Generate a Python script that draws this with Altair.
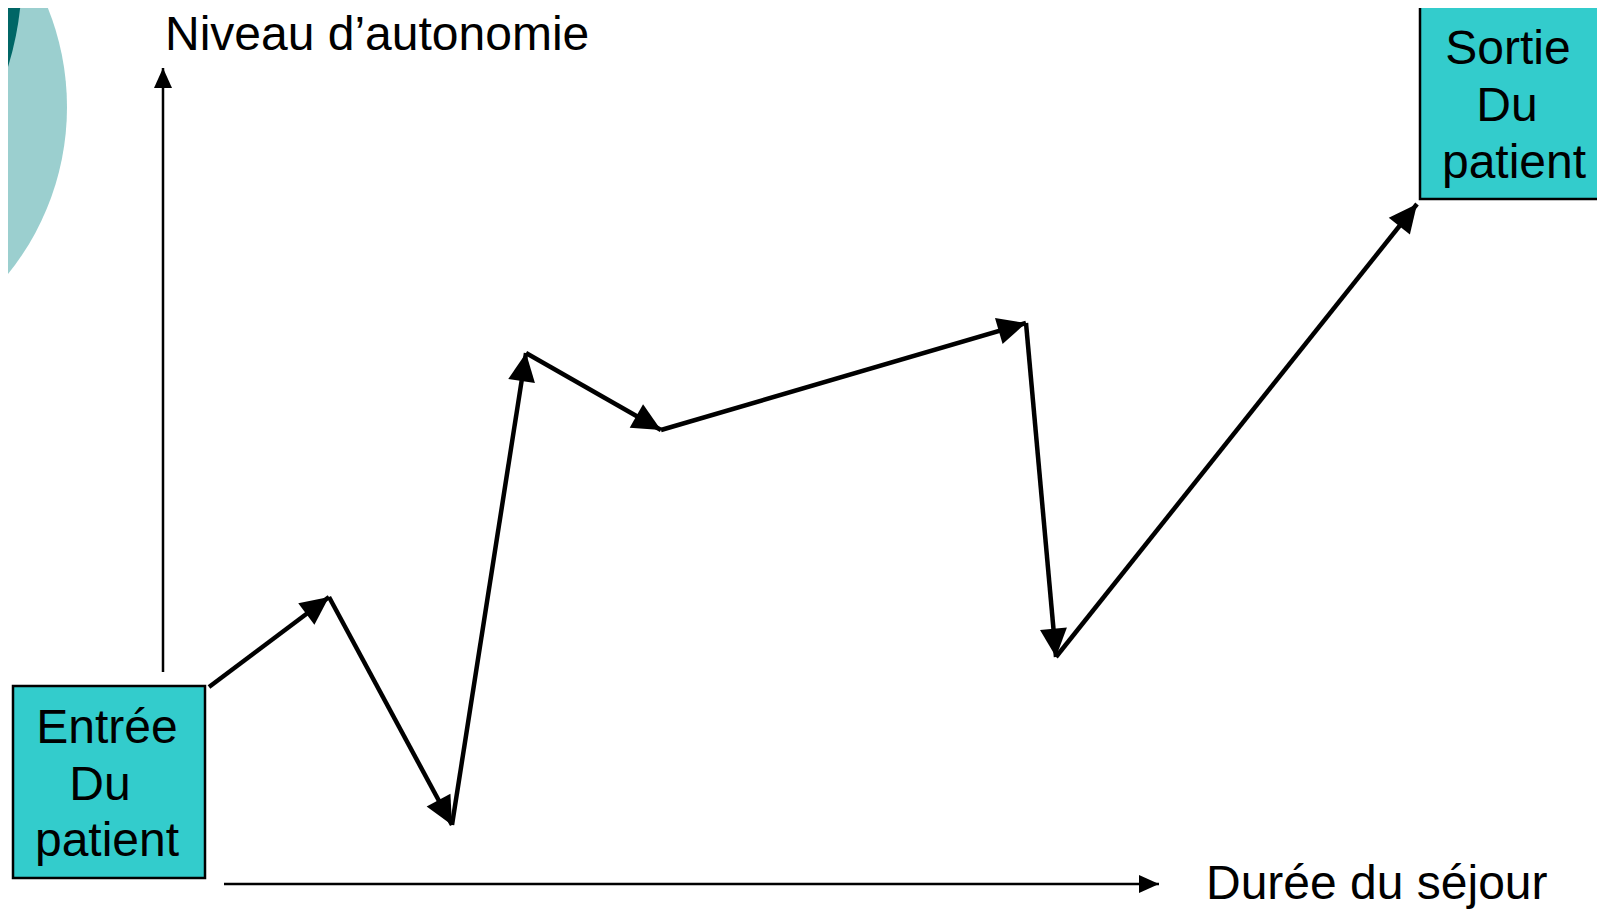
import altair as alt
import pandas as pd
import numpy as np

# ---- values (diagram coordinates, px) ----
# patient's autonomy trajectory: each step is an arrow to the next point
path_x = [209, 329, 452, 526, 661, 1026, 1056, 1417]
path_y = [687, 597, 825, 353, 430, 323, 657, 204]

# axes arrows (start -> tip)
axis_x1 = [163, 224]
axis_y1 = [672, 884]
axis_x2 = [163, 1159]
axis_y2 = [68, 884]

# boxes: entrée / sortie
box_x1 = [13, 1420]
box_x2 = [205, 1604]
box_y1 = [686, 6]
box_y2 = [878, 199]

box_lines = ["Entrée", "Du", "patient", "Sortie", "Du", "patient"]
box_line_x = [107, 100, 107, 1508, 1507, 1514]
box_line_y = [743, 800, 856, 64, 121, 178]

axis_titles = ["Niveau d\u2019autonomie", "Durée du séjour"]
axis_title_x = [165, 1206]
axis_title_y = [50, 899]

# decorative circles in the top-left corner
circle_x = [-199, -293]
circle_y = [107, -26]
circle_r = [266, 315]
circle_color = ["#9BCFCF", "#006666"]

FONT = "Liberation Sans"
FS = 48

# ---- tables ----
seg = pd.DataFrame({
    "x": path_x[:-1], "y": path_y[:-1],
    "x2": path_x[1:], "y2": path_y[1:],
})
dx = np.array(path_x[1:]) - np.array(path_x[:-1])
dy = np.array(path_y[1:]) - np.array(path_y[:-1])
heads = pd.DataFrame({
    "x": path_x[1:], "y": path_y[1:],
    "angle": np.mod(np.degrees(np.arctan2(dx, -dy)), 360),
})

ax = pd.DataFrame({"x": axis_x1, "y": axis_y1, "x2": axis_x2, "y2": axis_y2})
adx = np.array(axis_x2) - np.array(axis_x1)
ady = np.array(axis_y2) - np.array(axis_y1)
ax_heads = pd.DataFrame({
    "x": axis_x2, "y": axis_y2,
    "angle": np.mod(np.degrees(np.arctan2(adx, -ady)), 360),
})

boxes = pd.DataFrame({"x": box_x1, "x2": box_x2, "y": box_y1, "y2": box_y2})
lines = pd.DataFrame({"t": box_lines, "x": box_line_x, "y": box_line_y})
titles = pd.DataFrame({"t": axis_titles, "x": axis_title_x, "y": axis_title_y})
circles = pd.DataFrame({
    "x": circle_x, "y": circle_y,
    "size": [(2 * r) ** 2 for r in circle_r],
    "c": circle_color,
})

W, H = 1589, 904
xs = alt.Scale(domain=[8, 8 + W], nice=False, zero=False)
ys = alt.Scale(domain=[8, 8 + H], nice=False, zero=False, reverse=True)
X = lambda f="x": alt.X(f"{f}:Q", scale=xs, axis=None)
Y = lambda f="y": alt.Y(f"{f}:Q", scale=ys, axis=None)

circ = alt.Chart(circles).mark_point(filled=True, shape="circle", opacity=1, strokeWidth=0).encode(
    x=X(), y=Y(), size=alt.Size("size:Q", scale=None), color=alt.Color("c:N", scale=None)
)

axes_lines = alt.Chart(ax).mark_rule(color="black", strokeWidth=2.5).encode(
    x=X(), y=Y(), x2="x2:Q", y2="y2:Q"
)
axes_heads = alt.Chart(ax_heads).mark_point(
    filled=True, shape="M0,0L-0.9,2L0.9,2Z", color="black", opacity=1, size=400, strokeWidth=0
).encode(x=X(), y=Y(), angle=alt.Angle("angle:Q", scale=None))

segs = alt.Chart(seg).mark_rule(color="black", strokeWidth=4.5, strokeCap="butt").encode(
    x=X(), y=Y(), x2="x2:Q", y2="y2:Q"
)
seg_heads = alt.Chart(heads).mark_point(
    filled=True, shape="M0,0L-1,2.1L1,2.1Z", color="black", opacity=1, size=729, strokeWidth=0
).encode(x=X(), y=Y(), angle=alt.Angle("angle:Q", scale=None))

rects = alt.Chart(boxes).mark_rect(fill="#33CCCC", stroke="black", strokeWidth=2.5).encode(
    x=X(), x2="x2:Q", y=Y(), y2="y2:Q"
)
box_text = alt.Chart(lines).mark_text(
    font=FONT, fontSize=FS, color="black", align="center", baseline="alphabetic"
).encode(x=X(), y=Y(), text="t:N")

title_text = alt.Chart(titles).mark_text(
    font=FONT, fontSize=FS, color="black", align="left", baseline="alphabetic"
).encode(x=X(), y=Y(), text="t:N")

chart = alt.layer(
    circ, axes_lines, axes_heads, segs, seg_heads, rects, box_text, title_text
).properties(
    width=W, height=H, padding=0, autosize=alt.AutoSizeParams(type="none"),
    background="white",
).configure_view(stroke=None)

chart.save("out.html", embed_options={"renderer": "svg", "actions": False})
